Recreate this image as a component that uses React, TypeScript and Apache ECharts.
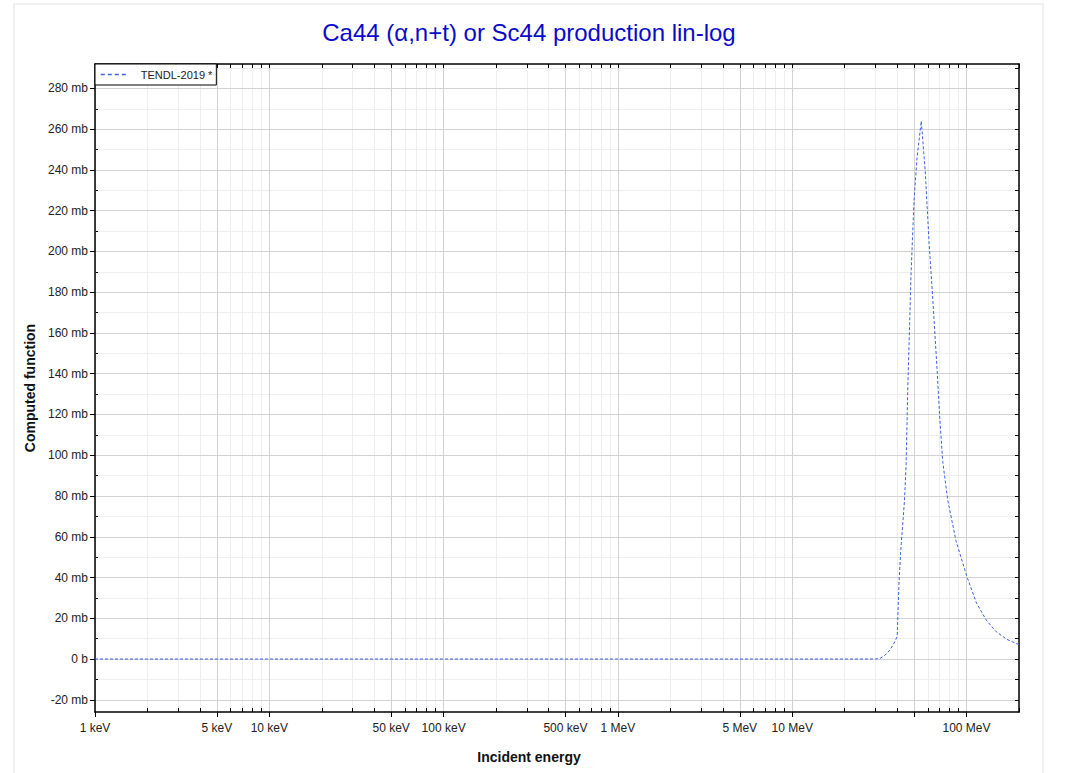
import React, { useEffect, useRef } from "react";
import * as echarts from "echarts";

// Incident energy in MeV
const ENERGY_MEV = [0.001, 30, 32, 34, 36, 38, 40, 41, 42, 44, 45, 46, 47, 48, 49, 50, 52, 55, 58, 61, 64, 68, 70, 73, 78, 87, 100, 114, 130, 148, 170, 200];
// Cross section in mb
const XS_MB = [0, 0, 0.4, 1.8, 4, 7, 11, 38, 54, 77, 95, 132, 160, 188, 207, 225, 246, 264, 239, 204, 177, 140, 120, 97, 78, 58, 41, 27.5, 19, 13.4, 9.7, 7];

const SERIES_NAME = "TENDL-2019 *";
const TITLE = "Ca44 (\u03b1,n+t) or Sc44 production lin-log";
const X_NAME = "Incident energy";
const Y_NAME = "Computed function";

const X_MIN = 0.001;
const X_MAX = 200;
const Y_MIN = -26;
const Y_MAX = 292;

// tick positions (MeV)
const X_MAJOR_TICKS = [0.001, 0.005, 0.01, 0.05, 0.1, 0.5, 1, 5, 10, 50, 100];
const X_LABELS = [0.001, 0.005, 0.01, 0.05, 0.1, 0.5, 1, 5, 10, 100];
const X_DECADES = [0.001, 0.01, 0.1, 1, 10, 100];
const Y_MAJOR = [-20, 0, 20, 40, 60, 80, 100, 120, 140, 160, 180, 200, 220, 240, 260, 280];
const Y_MINOR = [-20, -10, 0, 10, 20, 30, 40, 50, 60, 70, 80, 90, 100, 110, 120, 130, 140, 150, 160, 170, 180, 190, 200, 210, 220, 230, 240, 250, 260, 270, 280, 290];

const FONT = '"Liberation Sans", Arial, sans-serif';

export default function App() {
  const ref = useRef<HTMLDivElement>(null);

  useEffect(() => {
    if (!ref.current) return;
    const chart = echarts.init(ref.current, undefined, { renderer: "svg" });

    const lg = (v: number) => Math.log10(v);
    const xAll: number[] = [];
    X_DECADES.forEach((d) => {
      for (let k = 1; k <= 9; k++) {
        const v = d * k;
        if (v <= X_MAX * 1.0000001) xAll.push(lg(v));
      }
    });
    xAll.push(lg(200));
    const xMajorLog = X_MAJOR_TICKS.map(lg);
    const xLabelLog = X_LABELS.map(lg);
    const xMin = lg(X_MIN);
    const xMax = lg(X_MAX);

    const fmtE = (v: number) => {
      const e = Math.pow(10, v);
      if (e < 0.9999) return `${Math.round(e * 1000)} keV`;
      return `${Math.round(e)} MeV`;
    };

    const hiddenAxisParts = {
      axisLine: { show: false, onZero: false },
      axisTick: { show: false },
      axisLabel: { show: false },
      splitLine: { show: false },
    };

    const option: any = {
      animation: false,
      backgroundColor: "#fff",
      textStyle: { fontFamily: FONT },
      title: {
        text: TITLE,
        left: 524,
        textAlign: "center",
        top: 15,
        textStyle: { color: "#0a0acc", fontSize: 24, fontWeight: "normal", fontFamily: FONT },
      },
      legend: {
        left: 95,
        top: 64,
        padding: [5, 4, 5, 5],
        itemWidth: 25,
        itemHeight: 10,
        borderColor: "#000",
        borderWidth: 1,
        borderRadius: 0,
        backgroundColor: "#fff",
        itemStyle: { opacity: 0 },
        lineStyle: { width: 1.6, type: [4, 3], color: "#3d63dd" },
        textStyle: { fontSize: 11, color: "#222", fontFamily: FONT, padding: [0, 0, 0, 10] },
        data: [SERIES_NAME],
      },
      grid: { left: 95, right: 48, top: 64, bottom: 61, containLabel: false },
      graphic: [
        {
          type: "rect",
          shape: { x: 14, y: 4, width: 1029, height: 820 },
          style: { fill: "none", stroke: "#ececec", lineWidth: 1.5 },
          silent: true,
          z: -10,
        },
        {
          type: "text",
          x: 529,
          y: 757,
          style: {
            text: X_NAME,
            fontSize: 14,
            fontWeight: "bold",
            fontFamily: FONT,
            fill: "#111",
            align: "center",
            verticalAlign: "middle",
          },
        },
      ],
      xAxis: [
        {
          type: "log",
          logBase: 10,
          min: X_MIN,
          max: X_MAX,
          position: "bottom",
          ...hiddenAxisParts,
        },
        {
          // major gridlines, outward ticks, labels
          type: "value",
          min: xMin,
          max: xMax,
          position: "bottom",
          z: 1,
          axisLine: { show: true, onZero: false, lineStyle: { color: "#000", width: 1.5 } },
          axisTick: { show: true, inside: false, length: 5, customValues: xMajorLog, lineStyle: { color: "#000", width: 1 } },
          axisLabel: {
            show: true,
            customValues: xLabelLog,
            formatter: fmtE,
            fontSize: 12,
            color: "#222",
            margin: 10,
            fontFamily: FONT,
          },
          splitLine: { show: true, lineStyle: { color: "#d2d2d2", width: 1 } },
        },
        {
          // minor gridlines and inside ticks
          type: "value",
          min: xMin,
          max: xMax,
          position: "bottom",
          z: 0,
          axisLine: { show: false, onZero: false },
          axisTick: { show: true, inside: true, length: 4, customValues: xAll, lineStyle: { color: "#000", width: 1 } },
          axisLabel: { show: false },
          splitLine: { show: true, lineStyle: { color: "#eeeeee", width: 1 } },
        },
        {
          // top frame
          type: "value",
          min: xMin,
          max: xMax,
          position: "top",
          z: 1,
          axisLine: { show: true, onZero: false, lineStyle: { color: "#000", width: 1.5 } },
          axisTick: { show: true, inside: true, length: 4, customValues: xAll, lineStyle: { color: "#000", width: 1 } },
          axisLabel: { show: false },
          splitLine: { show: false },
        },
      ],
      yAxis: [
        {
          type: "value",
          min: Y_MIN,
          max: Y_MAX,
          position: "left",
          z: 1,
          name: Y_NAME,
          nameLocation: "middle",
          nameGap: 53,
          nameRotate: 90,
          nameTextStyle: { fontSize: 14, fontWeight: "bold", color: "#111", fontFamily: FONT },
          axisLine: { show: true, onZero: false, lineStyle: { color: "#000", width: 1.5 } },
          axisTick: { show: true, inside: false, length: 5, customValues: Y_MAJOR, lineStyle: { color: "#000", width: 1 } },
          axisLabel: {
            show: true,
            customValues: Y_MAJOR,
            formatter: (v: number) => (v === 0 ? "0 b" : `${v} mb`),
            fontSize: 12,
            color: "#222",
            margin: 7,
            fontFamily: FONT,
          },
          splitLine: { show: true, lineStyle: { color: "#d2d2d2", width: 1 } },
        },
        {
          type: "value",
          min: Y_MIN,
          max: Y_MAX,
          position: "left",
          z: 0,
          axisLine: { show: false, onZero: false },
          axisTick: { show: true, inside: true, length: 3, customValues: Y_MINOR, lineStyle: { color: "#000", width: 1 } },
          axisLabel: { show: false },
          splitLine: { show: true, lineStyle: { color: "#eeeeee", width: 1 } },
        },
        {
          type: "value",
          min: Y_MIN,
          max: Y_MAX,
          position: "right",
          z: 1,
          axisLine: { show: true, onZero: false, lineStyle: { color: "#000", width: 1.5 } },
          axisTick: { show: true, inside: true, length: 4, customValues: Y_MINOR, lineStyle: { color: "#000", width: 1 } },
          axisLabel: { show: false },
          splitLine: { show: false },
        },
      ],
      series: [
        {
          name: SERIES_NAME,
          type: "line",
          xAxisIndex: 0,
          yAxisIndex: 0,
          showSymbol: false,
          symbol: "none",
          z: 5,
          itemStyle: { color: "#3d63dd" },
          lineStyle: { color: "#3d63dd", width: 1, type: [3, 2] },
          data: ENERGY_MEV.map((e, i) => [e, XS_MB[i]]),
        },
      ],
    };

    chart.setOption(option);
    return () => chart.dispose();
  }, []);

  return (
    <div
      ref={ref}
      style={{ position: "fixed", left: 0, top: 0, width: 1067, height: 773, background: "#fff" }}
    />
  );
}
